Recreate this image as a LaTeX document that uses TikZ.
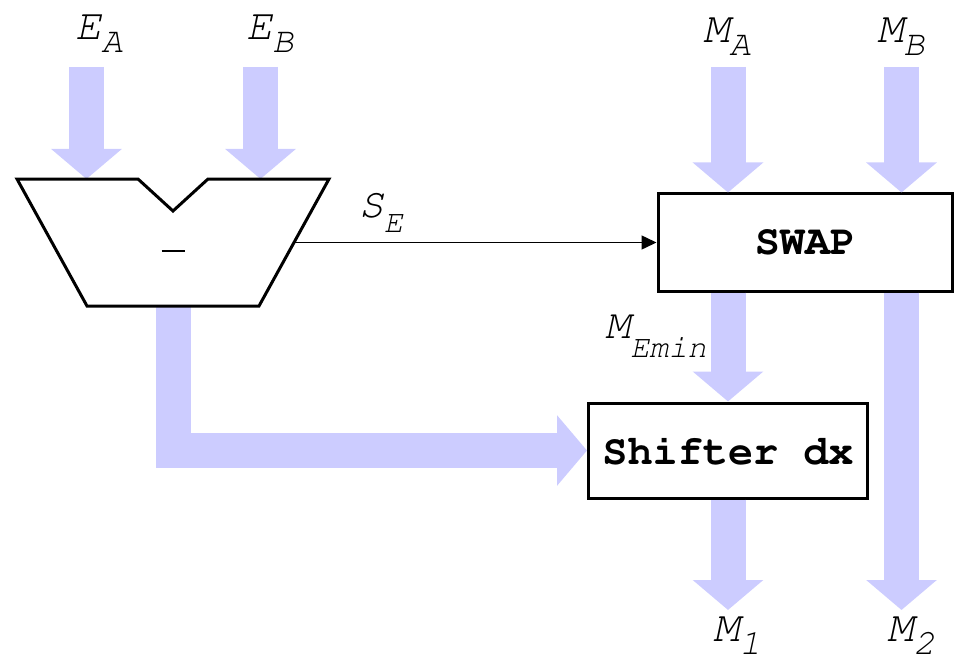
\documentclass[tikz,border=0pt]{standalone}
\usepackage[T1]{fontenc}
\usepackage{courier}
\usepackage{tikz}
\usetikzlibrary{arrows.meta,calc}
\definecolor{busblue}{RGB}{204,204,255}
\newcommand{\busname}[2]{\ttfamily\itshape\fontsize{44}{50}\selectfont#1\raisebox{-13bp}{\fontsize{36}{40}\selectfont#2}}
\newcommand{\wirename}[3]{\ttfamily\itshape\fontsize{42}{48}\selectfont#1\raisebox{-#3}{\fontsize{32}{36}\selectfont#2}}

\begin{document}
\begin{tikzpicture}[x=1bp,y=-1bp,
  bus/.style={busblue,line width=35bp,-{Triangle[width=69bp,length=30bp]}},
  unit/.style={draw,line width=3bp,fill=white,inner sep=0pt,
    font=\fontsize{42}{48}\selectfont\ttfamily\bfseries},
  lbl/.style={inner sep=0pt,anchor=base}]
  \useasboundingbox (0,0) rectangle (954,663);

  \coordinate (subtl) at (17,179);
  \coordinate (notchl) at (138,179);
  \coordinate (notch) at (173,211);
  \coordinate (notchr) at (208,179);
  \coordinate (subtr) at (329,179);
  \coordinate (subbr) at (259,306);
  \coordinate (subbl) at (87,306);
  \coordinate (subout) at ($(subbl)!0.5!(subbr)$);

  \node[unit,minimum width=294bp,minimum height=97bp] (swap) at (805,242.5) {SWAP};
  \node[unit,minimum width=279bp,minimum height=95bp] (shift) at (728,450.5) {Shifter dx};

  \coordinate (ea) at (86.5,67);
  \coordinate (eb) at (260.5,67);
  \coordinate (ma) at (728,67);
  \coordinate (mb) at (901.5,67);
  \coordinate (m1) at (728,610);
  \coordinate (m2) at (901.5,610);

  \draw[bus] (ea) -- (ea |- subtl);
  \draw[bus] (eb) -- (eb |- subtr);
  \draw[bus] (ma) -- (swap.north -| ma);
  \draw[bus] (mb) -- (swap.north -| mb);
  \draw[bus] (swap.south -| ma) -- (shift.north -| ma);
  \draw[bus] (swap.south -| mb) -- (m2);
  \draw[bus] (shift.south -| ma) -- (m1);
  \draw[bus] (subout) |- (shift.west);

  \draw[line width=3bp,fill=white] (subtl) -- (notchl) -- (notch) -- (notchr)
    -- (subtr) -- (subbr) -- (subbl) -- cycle;
  \node[inner sep=0pt] (minus) at (173,251) {\rule{23bp}{2.5bp}};

  \draw[line width=1.5bp,-{Triangle[length=15bp,width=14bp]}]
    ($(subtr)!0.5!(subbr)$) -- (swap.west);

  \node[lbl] (lea) at (99,40) {\busname{E}{A}};
  \node[lbl] (leb) at (270,40) {\busname{E}{B}};
  \node[lbl] (lma) at (727,43) {\busname{M}{A}};
  \node[lbl] (lmb) at (901,43) {\busname{M}{B}};
  \node[lbl] (lm1) at (737,641) {\busname{M}{1}};
  \node[lbl] (lm2) at (911,641) {\busname{M}{2}};
  \node[lbl] (lse) at (381,217) {\wirename{S}{E}{15bp}};
  \node[lbl] (lmemin) at (656,338) {\wirename{M}{Emin}{19bp}};
\end{tikzpicture}
\end{document}
